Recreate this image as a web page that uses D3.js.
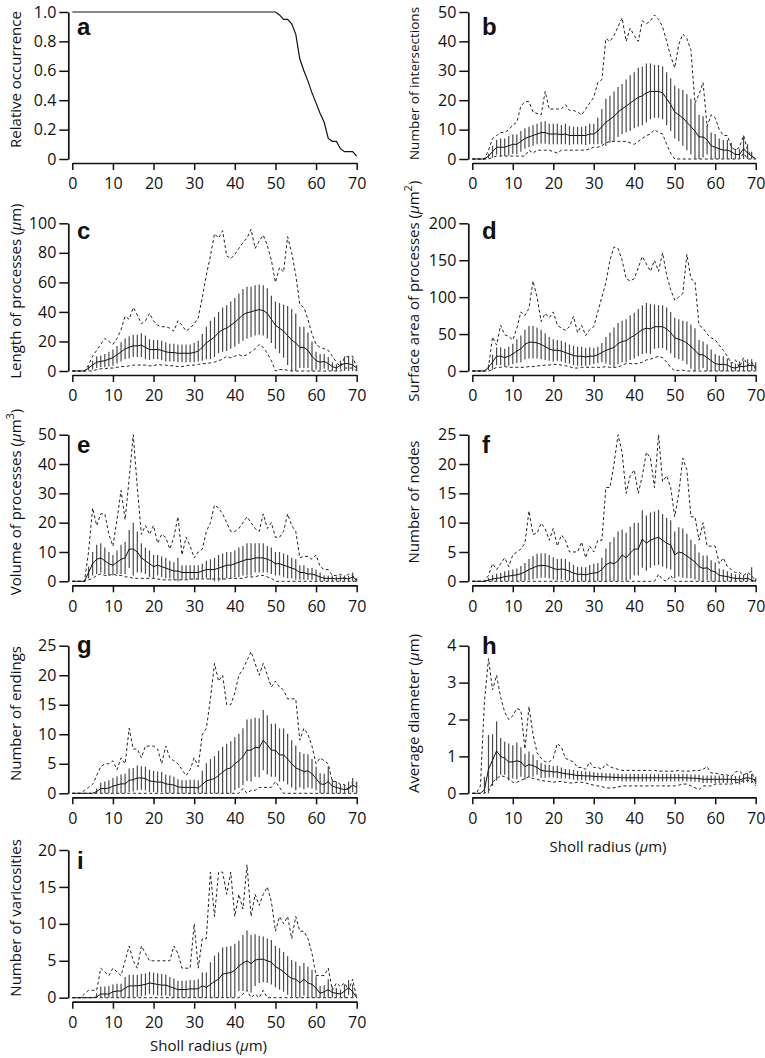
<!DOCTYPE html>
<html><head><meta charset="utf-8">
<script src="https://cdn.jsdelivr.net/npm/d3@7"></script>
<style>
body{margin:0;background:#fff;}
svg{display:block;}
text{font-family:"Open Sans",sans-serif;fill:#111;}
</style></head><body>
<svg id="chart" width="765" height="1058"></svg>
<script>
// ---------- data ----------
const radius = [0,1,2,3,4,5,6,7,8,9,10,11,12,13,14,15,16,17,18,19,20,21,22,23,24,25,26,27,28,29,30,31,32,33,34,35,36,37,38,39,40,41,42,43,44,45,46,47,48,49,50,51,52,53,54,55,56,57,58,59,60,61,62,63,64,65,66,67,68,69,70];
const xTicks = [0,10,20,30,40,50,60,70];

// a: relative occurrence
const occurrence = [1,1,1,1,1,1,1,1,1,1, 1,1,1,1,1,1,1,1,1,1, 1,1,1,1,1,1,1,1,1,1, 1,1,1,1,1,1,1,1,1,1, 1,1,1,1,1,1,1,1,1,1,
  1,0.98,0.95,0.95,0.92,0.85,0.68,0.6,0.53,0.45, 0.38,0.31,0.25,0.14,0.12,0.12,0.07,0.05,0.05,0.05,0.02];
const occTicks = [0,0.2,0.4,0.6,0.8,1.0];
const occTickLabels = ["0","0.2","0.4","0.6","0.8","1.0"];

// b: number of intersections
const interMean = [0,0,0,0,1,2.5,4,4,4,4.5, 5,5,6,7,7.5,8,8.5,9,9,8.5, 8.5,8.5,8.3,8.5,8,8,8,8,8,8.5, 8.5,9.5,11,12.5,13.5,14.5,16,17,18,19, 20,21,21.5,22.5,23,23,23,22.5,20.5,18.5, 16,15,14,12.5,11,9.5,7.5,7.5,6.5,4.5, 4,3.5,3,3,2.5,1.5,1.5,3.5,2,1,0];
const interSD = [0,0,0,0,0.8,2,2.5,3,3,3.3, 3.3,3.3,3.5,3.5,3.5,3.5,3.5,3.7,3.8,3.5, 3.5,3.5,3.3,3.5,3.2,3,3,3,3.2,3.5, 3.5,4.5,6,8,8,8.5,8.5,8.5,9,9.5, 9.5,10,10,10,9.5,9,9,9,9,9, 9,9,9.5,9.5,9.5,9.5,7.5,7,5,4.5, 4.5,3.5,3.5,3.5,3,2,2,4.5,3,1.5,0];
const interMax = [0,0,0,0,3,7,8,9,9,10, 11.5,12.5,18,19.5,19.5,16,15.5,15,23,17, 17,17,17,18.5,16.5,16.5,16,15,17,19, 21,26,27,41,40,42,45,48,40,44.5, 42,40,47,46,47,49,47.5,45,40,35, 31,39,42.5,41,37,19,22,26,11,15, 14,10,8,8,4,3,4,8,3,1,0];
const interMin = [0,0,0,0,0,0.5,1,1,1,1, 1,1,1,1,3,2,3,3,3,3, 2.5,2,3,3,3,3,3,3,3,3.5, 4,4,4.5,5.5,6,6,6,6,6,5.5, 5,6,7,8,8.5,10,9,8.5,5,2, 0,0,0,0,0,0,0,0,0,0, 0,0,0,0,0,0,0,2,0,0,0];
const interTicks = [0,10,20,30,40,50];

// c: length of processes
const lenMean = [0,0,0,0,2,4,6,6.5,7,8, 9,11,13,15,16,17,17,17.5,16,14.5, 14.5,14.5,14,13,12.5,12.5,12,12,12,12, 12.5,13.5,16,19,21,23,26,28,29,31, 33,35.5,38,39.5,40,41,41.5,41,39,35, 31,29,27,24,21,19,16,16,14,10, 7,6,6.5,5,3,2,4,5,5,4,2];
const lenSD = [0,0,0,0,1.5,3,4,4,4.5,5, 5.5,6,6.5,7,7.5,7.5,7.5,8,8,7, 6.5,6.5,6.5,6.5,6,6,6,6,6,6, 6.5,7,9,11,13,13.5,14,15,15.5,16, 16.5,17,17.5,17.5,17,17,17,17,17,16, 16,17,18,20,21,20,14,14,12,10, 6,5.5,5,4.5,3,2.5,3,5,5,4.5,2];
const lenMax = [0,0,0,0,4,10,14,18,22,20, 18,22,28,37,35,43,38,32,34,39, 34,31,30,30,29,27,34,31,27,29, 32,36,50,65,78,93,90,95,78,76, 79,83,87,90,96,83,88,92,85,75, 60,70,67,91,80,65,45,43,35,25, 18,16,15,14,10,6,3,9,10,10,2];
const lenMin = [0,0,0,0,0,0,1,1.5,1.5,2, 2,2.5,3,3,3.5,4,4,4,4,3.5, 3.5,4.5,4,4,3.5,3.5,3,3,3.5,4, 4,4.5,5,5,5.5,6,7,8,10,9, 10,11,10,11,13,15,18,16,12,7, 0,1,1,0.5,0,0,0,0,0,0, 0,0,0,0,0,0,0,2,2,2,0];
const lenTicks = [0,20,40,60,80,100];

// d: surface area of processes
const areaMean = [0,0,0,0,5,12,20,20,18,20, 23,27,30,36,39,39,38,36,33,30, 28,28,27,25,23,21,20,20,19,20, 20,22,25,28,30,32,37,40,41,45, 48,52,56,58,57,60,60,60,57,52, 45,43,41,38,33,28,22,22,18,14, 10,9,9,8,5,4,6,6,7,8,6];
const areaSD = [0,0,0,0,4,10,12,12,12,13, 14,16,18,20,22,22,21,20,18,16, 15,14,14,14,13,13,13,13,12,12, 11,11,13,18,22,27,28,28,29,30, 31,32,33,34,34,30,29,29,29,28, 27,27,27,29,30,30,20,18,18,15, 13,12,11,9,7,6,7,8,9,8,6];
const areaMax = [0,0,0,0,5,46,35,62,49,47, 42,58,80,75,85,122,100,67,78,72, 80,62,58,55,60,74,52,62,48,56, 60,80,100,120,150,168,166,150,125,122, 125,140,155,145,135,150,135,160,130,110, 96,100,105,158,125,121,62,58,50,45, 42,35,28,20,10,15,5,18,8,12,2];
const areaMin = [0,0,0,0,0,2,5,5,6,5, 5,5,5,5,6,6,7,7,8,8, 9,9,8,7,6,4,4,5,5,5, 5,5,5,6,5,5,5,8,10,10, 10,10,12,15,16,18,20,18,12,5, 0,1,1,0,0,0,0,0,0,0, 0,0,0,0,0,0,0,0,0,0,0];
const areaTicks = [0,50,100,150,200];

// e: volume of processes
const volMean = [0,0,0,0,3,6,7.5,8,7,6, 5.5,6.5,7.5,8,11,11,10,8,7,6, 5,5.5,5,4.5,4,3.5,3.5,3,3,3, 3,3,3.5,4,4,4,4.5,5,5.5,5.5, 6,6.5,7,7.5,7.5,8,8,8,7.5,7, 6,6,5.5,5,4.5,4,3,3,2.5,2.5, 2,1.5,1,1,1,0.8,1,1,0.8,1.5,0.5];
const volSD = [0,0,0,0,2,4,5,5,4.5,4, 3.5,4,5,5.5,6.5,9,7,5,4.5,4.5, 4,3.5,3.5,3.5,3,3,4.5,2.5,2.5,2.5, 2.5,2.5,2.5,3,3.5,4,4.5,4.5,4.5,4.5, 4.5,5,5,5.5,5.5,5,5,5,4.5,4.5, 4,4,4,4,3.5,3.5,2.5,2.5,2,2, 2,1.5,1,1,1,0.8,1,1,1,1.5,0.5];
const volMax = [0,0,0,0,10,25,19,23,23,16, 12,21,31,21,35,50,32,16,19,16, 19,13,16,15,11,15,22,9,15,12, 8,10,11,17,20,26,25,23,20,17, 17,18,20,22,20,18,17,23,18,20, 15,15,17,23,19,17,8,8.5,8.5,7.5, 9,5,4,4,2,2,2.5,1,2.5,2,0];
const volMin = [0,0,0,0,0.5,1,2,2.5,2,2, 2.5,2,2,1.5,1.5,1,1,1,1,1, 1,0.8,0.5,0.5,0.5,0.5,0.5,0.5,0.5,0.7, 0.8,0.8,0.8,0.8,0.8,0.8,0.8,0.8,0.8,1, 1,1,1,1.5,1.5,1.5,2,2,1.5,1, 0,0,0,0,0,0,0,0,0,0, 0,0,0,0,0,0,0,0,0,0,0];
const volTicks = [0,10,20,30,40,50];

// f: number of nodes
const nodeMean = [0,0,0,0,0.2,0.4,0.5,0.6,0.8,0.9, 1,1.1,1.3,1.6,2,2.3,2.6,2.7,2.7,2.5, 2.2,2,2.1,2,1.7,1.4,1.2,1.2,1.1,1.3, 1.4,1.5,2,2.8,3.2,3,3.5,4.5,4,4.8, 5.5,5.5,7.2,6.5,7,7.3,7.5,7,6.5,6.2, 4.5,5,4.8,4.3,3.8,3.3,2.5,2.2,2.3,1.8, 1.6,1,0.9,0.8,0.6,0.5,0.5,0.4,0.5,0.2,0];
const nodeSD = [0,0,0,0,0.4,0.7,0.8,0.8,0.9,1, 1,1.1,1.3,1.5,1.8,2,2.1,2.1,2.1,2, 1.9,1.8,1.8,1.8,1.6,1.4,1.3,1.3,1.3,1.5, 1.6,1.6,2,2.8,3.5,4.5,5,4.3,4.3,4.5, 4.5,4.5,4.9,4.7,4.7,4.6,4.7,4.5,4.3,4.2, 4,4.2,4.2,3.8,3.3,3,2.4,2.2,2.1,1.8, 1.6,1.2,1.1,0.9,0.8,0.7,0.7,0.7,0.8,2.2,0.5];
const nodeMax = [0,0,0,0,1,3,2,3,4,2.5, 4.5,5,5.5,6.5,12,8,8.2,9.9,9,7, 9,6,7.9,7,5,5,5,6.7,4,6, 5,7,7,16,16,20,25,22,15,18, 19,15,18,22,21,16,25,17,18,16, 11,15,21,19,11,11,7,10,6,6, 6,3,4,2.5,2,1.5,1.5,1,1.5,1,0];
const nodeMin = [0,0,0,0,0,0,0,0,0,0, 0,0,0,0,0,0,0,0,0,0, 0,0,0,0,0,0,0,0,0,0, 0,0,0,0,0,0,0,0,0,0, 0,0,0,0,0,0,1.2,0.3,0,1, 0,0,0,0,0,0,0,0,0,0, 0,0,0,0,0,0,0,0,0,0,0];
const nodeTicks = [0,5,10,15,20,25];

// g: number of endings
const endMean = [0,0,0,0,0,0,0.3,0.8,0.8,0.9, 1.2,1.4,1.6,1.6,2.2,2.3,2.6,2.6,2.5,2.1, 2,1.9,1.9,1.6,1.5,1.4,1.1,1,1,1, 1,0.9,1.5,2.1,2.3,2.5,3,3.6,4.1,4.3, 5,5.5,6.2,7.3,7.3,7.8,7.7,9,8.2,7.3, 7.3,6.5,6.5,5.8,5,4.3,4,3.7,3.8,3.3, 2.5,1.6,1.5,2,1.2,1,0.8,0.6,0.8,1.4,1];
const endSD = [0,0,0,0,0,0,0.5,1,1.2,1.3, 1.4,1.5,1.6,1.7,2,2,2.1,2,2,1.9, 1.8,1.8,1.7,1.6,1.5,1.4,1.3,1.2,1.2,1.3, 1.3,1.3,2.3,3,3.5,3.8,4.2,4.3,4.3,4.5, 4.5,4.6,4.8,5.2,5.3,5,5,5.1,5,4.5, 4.5,4.5,4.5,4.3,4,3.8,3,3,2.8,2.5, 2,1.8,1.8,2.5,1.2,1,0.8,0.8,1.2,1.2,1];
const endMax = [0,0,0,0.5,1,1.5,3,4.5,5,5, 5.5,4,6,5,11,7.5,7.5,6,8,8, 8,7.5,5,8,6,5.5,5,4,3,4, 6,4.5,10,11,16,22,19,20,15,15, 17,20,21,22.5,24,22,20,22,20,18, 19,18,17.5,16,16,16,9,11,10,8, 5,6,5.5,5,2,2,1.5,1.5,0.5,2,1.5];
const endMin = [0,0,0,0,0,0,0,0,0,0, 0,0,0,0,0,0,0,0,0,0, 0,0,0,0,0,0,0,0,0,0, 0,0,0,0,0,0,0,0,0,0, 0,0,0.8,0,0.5,0.5,1,1,1,1, 2,1,0,0,0,0,0,0,0,0, 0,0,0,0,0,0,0,0,0,0,0];
const endTicks = [0,5,10,15,20,25];

// h: average diameter
const diamMean = [0,0,0,0.1,0.65,0.9,1.15,1.0,0.95,0.85, 0.85,0.88,0.85,0.72,0.78,0.75,0.7,0.62,0.6,0.6, 0.58,0.58,0.55,0.53,0.52,0.5,0.48,0.48,0.47,0.47, 0.46,0.45,0.45,0.44,0.44,0.43,0.43,0.42,0.42,0.42, 0.42,0.42,0.42,0.42,0.42,0.42,0.42,0.42,0.42,0.42, 0.42,0.42,0.42,0.42,0.41,0.41,0.4,0.38,0.38,0.38, 0.38,0.38,0.38,0.38,0.38,0.37,0.36,0.4,0.42,0.4,0.35];
const diamSD = [0,0,0,0.35,0.93,0.7,0.8,0.5,0.45,0.5, 0.45,0.5,0.4,0.35,0.35,0.3,0.2,0.2,0.18,0.17, 0.15,0.17,0.15,0.13,0.13,0.13,0.13,0.12,0.12,0.12, 0.12,0.11,0.11,0.1,0.1,0.1,0.1,0.1,0.1,0.1, 0.1,0.1,0.1,0.1,0.1,0.1,0.1,0.1,0.1,0.1, 0.1,0.1,0.1,0.1,0.1,0.1,0.1,0.1,0.1,0.1, 0.1,0.1,0.1,0.1,0.1,0.1,0.12,0.12,0.12,0.12,0.1];
const diamMax = [0,0,0.2,2.5,3.65,2.8,3.2,2.6,2.2,2.0, 2.1,2.3,2.25,1.2,2.35,1.6,1.1,0.95,0.85,0.85, 0.95,1.35,1.25,0.95,0.9,0.85,0.7,0.7,0.65,0.85, 0.7,0.7,0.65,0.8,0.72,0.68,0.65,0.62,0.62,0.62, 0.62,0.62,0.62,0.62,0.62,0.62,0.6,0.6,0.6,0.6, 0.6,0.62,0.6,0.6,0.6,0.62,0.62,0.65,0.72,0.55, 0.55,0.52,0.5,0.5,0.45,0.58,0.6,0.5,0.55,0.6,0.25];
const diamMin = [0,0,0,0,0.05,0.3,0.4,0.48,0.45,0.4, 0.3,0.3,0.35,0.4,0.45,0.4,0.38,0.35,0.33,0.32, 0.3,0.32,0.32,0.3,0.28,0.28,0.3,0.3,0.28,0.25, 0.22,0.2,0.18,0.15,0.14,0.15,0.17,0.2,0.2,0.2, 0.2,0.2,0.2,0.2,0.2,0.2,0.2,0.2,0.2,0.2, 0.2,0.22,0.25,0.25,0.2,0.15,0.1,0.2,0.2,0.2, 0.25,0.25,0.25,0.25,0.25,0.28,0.3,0.35,0.35,0.35,0.2];
const diamTicks = [0,1,2,3,4];

// i: number of varicosities
const varMean = [0,0,0,0,0,0,0.1,0.5,0.5,0.5, 0.8,0.9,0.9,1.3,1.6,1.6,1.6,1.7,1.8,2, 1.9,1.8,1.7,1.7,1.5,1.3,1.1,1.1,1.1,1.2, 1.2,1.2,1.6,1.4,1.8,2.2,2.5,3.2,3.3,3.4, 3.7,4.3,4.7,5,4.6,5.1,5.2,5.2,5,4.8, 4.2,3.9,3.5,3,2.6,2.5,2,2.5,2,1.8, 1.3,0.6,0.8,1.1,0.7,0.6,0.5,0.9,1.4,0.8,0];
const varSD = [0,0,0,0,0,0,0.5,1,1,1.1, 1,1,1,1.5,1.5,1.5,1.5,1.5,1.5,1.5, 1.5,1.5,1.5,1.4,1.3,1.3,1.2,1.2,1.2,1.2, 1.2,1.3,1.8,2,3,3.5,3.6,3.6,3.6,3.6, 3.6,3.4,3.8,4.1,3.9,3.5,3.2,3.1,3,3, 2.8,2.8,2.7,2.6,2.5,2.4,2.3,2.2,2.2,2, 1.6,1,0.9,1.4,0.8,0.7,0.6,0.9,1,1,0];
const varMax = [0,0,0,0.5,1,1,1,4,3.5,3, 4,3.5,3,5,7,5,4,7,6,5, 5,5,5,5,5,7,6,4,4,4, 10,4,8,8,17,11,17,17,14,17, 11,14,12,18,11,14,12.5,14,15,13, 9,11,10,11,8,11,9,9,8,6, 3,3,3,4,1,2,1.5,2,1,2.5,0];
const varMin = [0,0,0,0,0,0,0,0,0,0, 0,0,0,0,0,0,0,0,0,0, 0,0,0,0,0,0,0,0,0,0, 0,0,0,0,0,0,0,0,0,0, 0,0,0.5,1,0,0.5,0,1,0,0, 0,0,0,0,0,0,0,0,0,0, 0,0,0,0,0,0,0,0,0,0,0];
const varTicks = [0,5,10,15,20];

// ---------- layout ----------
const colX = [[72.3, 356.7], [472.3, 755.7]];
const rowY = [[12, 159], [223.3, 371], [434.7, 581.3], [645.7, 793.3], [850, 997.7]];
const titleX = [21, 419];
const letterBase = {a:35, b:35, c:239, d:239, e:453, f:453, g:653, h:654, i:869};
const letterX = [77, 482];

const panels = [
  {id:'a', col:0, row:0, line:occurrence, yMax:1, ticks:occTicks, tickLabels:occTickLabels,
   title:[{t:"Relative occurrence"}], tSize:15},
  {id:'b', col:1, row:0, mean:interMean, sd:interSD, max:interMax, min:interMin, yMax:50, ticks:interTicks,
   title:[{t:"Number of intersections"}], tSize:13.5, tShift:4},
  {id:'c', col:0, row:1, mean:lenMean, sd:lenSD, max:lenMax, min:lenMin, yMax:100, ticks:lenTicks,
   title:[{t:"Length of processes ("},{t:"µ",it:1},{t:"m)"}], tSize:15},
  {id:'d', col:1, row:1, mean:areaMean, sd:areaSD, max:areaMax, min:areaMin, yMax:200, ticks:areaTicks,
   title:[{t:"Surface area of processes ("},{t:"µ",it:1},{t:"m"},{t:"2",sup:1},{t:")",after:1}], tSize:15},
  {id:'e', col:0, row:2, mean:volMean, sd:volSD, max:volMax, min:volMin, yMax:50, ticks:volTicks,
   title:[{t:"Volume of processes ("},{t:"µ",it:1},{t:"m"},{t:"3",sup:1},{t:")",after:1}], tSize:15},
  {id:'f', col:1, row:2, mean:nodeMean, sd:nodeSD, max:nodeMax, min:nodeMin, yMax:25, ticks:nodeTicks,
   title:[{t:"Number of nodes"}], tSize:15},
  {id:'g', col:0, row:3, mean:endMean, sd:endSD, max:endMax, min:endMin, yMax:25, ticks:endTicks,
   title:[{t:"Number of endings"}], tSize:15},
  {id:'h', col:1, row:3, mean:diamMean, sd:diamSD, max:diamMax, min:diamMin, yMax:4, ticks:diamTicks,
   title:[{t:"Average diameter ("},{t:"µ",it:1},{t:"m)"}], tSize:15, xTitleY:852},
  {id:'i', col:0, row:4, mean:varMean, sd:varSD, max:varMax, min:varMin, yMax:20, ticks:varTicks,
   title:[{t:"Number of varicosities"}], tSize:15, xTitleY:1051}
];

const svg = d3.select('#chart');

function addText(parent, segs){
  segs.forEach(s=>{
    const ts = parent.append('tspan').text(s.t);
    if(s.it) ts.style('font-style','italic');
    if(s.sup) ts.attr('dy',-7).style('font-size','11px');
    if(s.after) ts.attr('dy',7);
  });
}

panels.forEach(p=>{
  const [x0,x1] = colX[p.col];
  const [y0,y1] = rowY[p.row];
  const x = d3.scaleLinear().domain([0,70]).range([x0,x1]);
  const y = d3.scaleLinear().domain([0,p.yMax]).range([y1,y0]);
  const g = svg.append('g');

  // axes
  const xAxis = d3.axisBottom(x).tickValues(xTicks).tickSize(7).tickSizeOuter(0).tickPadding(8).tickFormat(d=>String(d));
  const gx = g.append('g').attr('transform',`translate(0,${y1+4})`).call(xAxis);
  const yAxis = d3.axisLeft(y).tickValues(p.ticks).tickSize(9).tickSizeOuter(0).tickPadding(3)
    .tickFormat(p.tickLabels ? (d,i)=>p.tickLabels[i] : d=>String(d));
  const gy = g.append('g').attr('transform',`translate(${x0-4},0)`).call(yAxis);
  [gx,gy].forEach(a=>{
    a.select('.domain').attr('stroke','#111').attr('stroke-width',1.7);
    a.selectAll('.tick line').attr('stroke','#111').attr('stroke-width',1.5);
    a.selectAll('.tick text').style('font-family','"Open Sans",sans-serif').style('font-size','16px').attr('fill','#111');
  });

  // y title
  const t = g.append('text')
    .attr('transform',`translate(${titleX[p.col]},${(y0+y1)/2-6+(p.tShift||0)}) rotate(-90)`)
    .attr('text-anchor','middle').style('font-size',p.tSize+'px');
  addText(t, p.title);

  if(p.xTitleY){
    const xt = g.append('text').attr('x',(x0+x1)/2-6).attr('y',p.xTitleY)
      .attr('text-anchor','middle').style('font-size','15px');
    addText(xt,[{t:"Sholl radius ("},{t:"µ",it:1},{t:"m)"}]);
  }

  // panel letter
  g.append('text').attr('x',letterX[p.col]).attr('y',letterBase[p.id])
    .style('font-family','"Liberation Sans",Arial,sans-serif').style('font-weight','bold')
    .style('font-size','24px').text(p.id);

  const ln = d3.line().x((d,i)=>x(radius[i])).y(d=>y(d));
  if(p.line){
    g.append('path').datum(p.line).attr('d',ln).attr('fill','none').attr('stroke','#111').attr('stroke-width',1.2);
    return;
  }

  // dashed max/min
  [p.max,p.min].forEach(arr=>{
    g.append('path').datum(arr).attr('d',ln).attr('fill','none')
      .attr('stroke','#222').attr('stroke-width',1).attr('stroke-dasharray','3,2.5');
  });
  // error bars
  const bars = radius.map((r,i)=>({r, m:p.mean[i], s:p.sd[i]})).filter(d=>d.s>0);
  g.append('g').selectAll('line').data(bars).join('line')
    .attr('x1',d=>x(d.r)).attr('x2',d=>x(d.r))
    .attr('y1',d=>y(Math.max(0,d.m-d.s))).attr('y2',d=>y(Math.min(p.yMax,d.m+d.s)))
    .attr('stroke','#4a4a4a').attr('stroke-width',1.2);
  // mean line
  g.append('path').datum(p.mean).attr('d',ln).attr('fill','none').attr('stroke','#111').attr('stroke-width',1);
});
</script>
</body></html>
